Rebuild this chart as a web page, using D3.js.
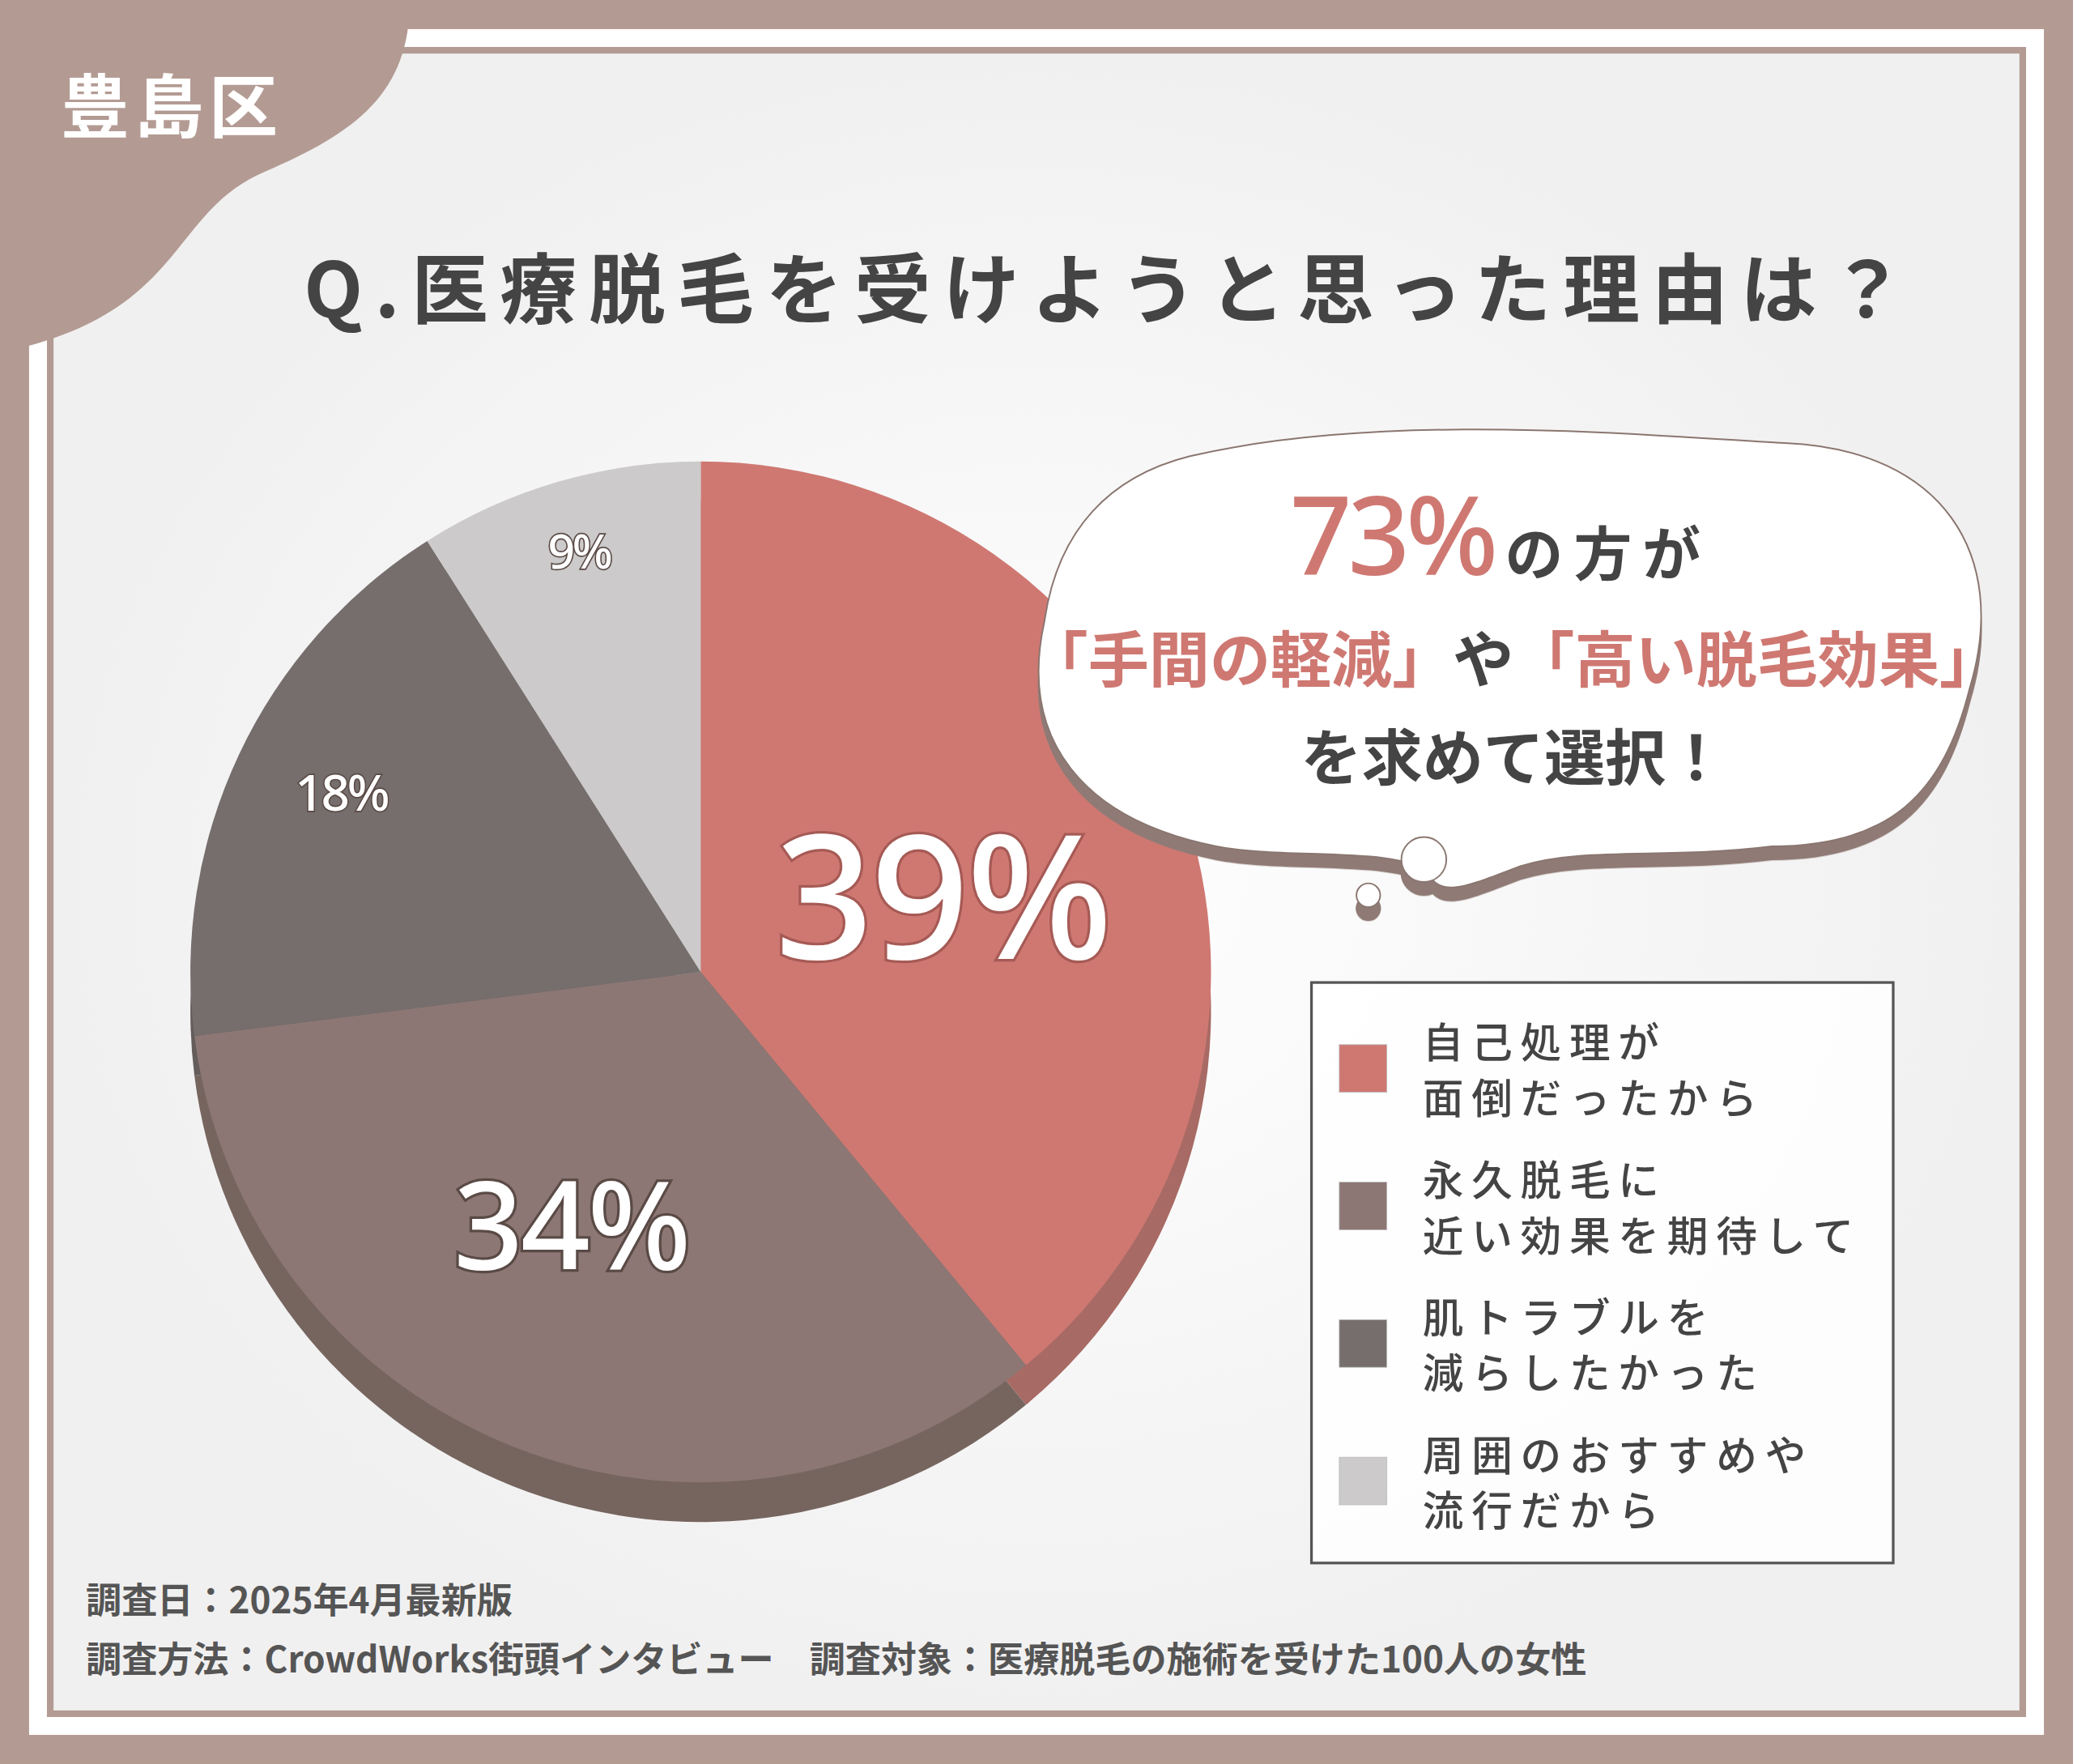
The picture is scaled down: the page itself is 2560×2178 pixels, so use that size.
<!DOCTYPE html>
<html><head><meta charset="utf-8">
<script src="https://cdn.jsdelivr.net/npm/d3@7"></script>
<style>body{margin:0;background:#b39b93}svg{display:block}</style>
</head><body>
<div id="chart"></div>
<script>
// data
const categories = ["自己処理が|面倒だったから", "永久脱毛に|近い効果を期待して", "肌トラブルを|減らしたかった", "周囲のおすすめや|流行だから"]
const values = [39, 34, 18, 9]
const colors = ["#cf7872", "#8c7774", "#756e6d", "#cccaca"]
const shadowColors = ["#a86a64", "#76655f", "#645d5b", "#aaa7a6"]
const labelSizes = [130, 92, 38, 36]

const W = 1568, H = 1334
const svg = d3.select("#chart").append("svg")
  .attr("width", 2560).attr("height", 2178)
  .attr("viewBox", `0 0 ${W} ${H}`)
  .style("font-family", "'Noto Sans CJK JP', sans-serif")

const defs = svg.append("defs")
const bg = defs.append("radialGradient").attr("id", "bg")
bg.append("stop").attr("offset", "0%").attr("stop-color", "#ffffff")
bg.append("stop").attr("offset", "100%").attr("stop-color", "#f1f0f0")
const f = defs.append("filter").attr("id", "shadow").attr("x", "-20%").attr("y", "-20%").attr("width", "140%").attr("height", "150%")
f.append("feDropShadow").attr("dx", 0).attr("dy", 10).attr("stdDeviation", 0).attr("flood-color", "#8f7a74")

// frame
svg.append("rect").attr("x", 0).attr("y", 0).attr("width", W).attr("height", H).attr("fill", "#b39b93")
svg.append("rect").attr("x", 22).attr("y", 22).attr("width", W - 44).attr("height", H - 44).attr("fill", "#ffffff")
svg.append("rect").attr("x", 38).attr("y", 38).attr("width", W - 76).attr("height", H - 76)
  .attr("fill", "url(#bg)").attr("stroke", "#b39b93").attr("stroke-width", 5)

// corner blob
svg.append("path")
  .attr("d", "M0,0 L310,0 C310,70 270,100 200,130 C130,160 140,230 20,262 L0,262 Z")
  .attr("fill", "#b39b93")
svg.append("text").attr("x", 130).attr("y", 100).attr("text-anchor", "middle")
  .attr("font-size", 52).attr("font-weight", 700).attr("fill", "#fff").attr("letter-spacing", 4)
  .text("豊島区")

// title
svg.append("text").attr("x", 840).attr("y", 240).attr("text-anchor", "middle")
  .attr("font-size", 58).attr("font-weight", 700).attr("fill", "#444").attr("letter-spacing", 9)
  .text("Q.医療脱毛を受けようと思った理由は？")

// pie
const cx = 530, cy = 735, r = 386, depth = 30
const pie = d3.pie().sort(null).value(d => d)
const arcs = pie(values)
const arc = d3.arc().innerRadius(0).outerRadius(r)

const sh = svg.append("g").attr("transform", `translate(${cx},${cy + depth})`)
sh.selectAll("path").data(arcs).enter().append("path")
  .attr("d", arc).attr("fill", (d, i) => shadowColors[i])
sh.append("rect").attr("x", -r).attr("y", -depth).attr("width", 2 * r).attr("height", depth)
  .attr("fill", "#7d6c66").attr("opacity", 0)

const g = svg.append("g").attr("transform", `translate(${cx},${cy})`)
g.selectAll("path").data(arcs).enter().append("path")
  .attr("d", arc).attr("fill", (d, i) => colors[i])

const labelPos = [[183, -45], [-98, 200], [-272, -132], [-92, -315]]
g.selectAll("text.lab").data(arcs).enter().append("text")
  .attr("class", "lab")
  .attr("x", (d, i) => labelPos[i][0]).attr("y", (d, i) => labelPos[i][1])
  .attr("text-anchor", "middle").attr("dominant-baseline", "middle")
  .attr("font-family", "'Noto Sans', sans-serif")
  .attr("font-size", (d, i) => labelSizes[i]).attr("font-weight", 500)
  .attr("fill", "#fff")
  .attr("stroke", (d, i) => i === 0 ? "#a65a55" : "#5a4a46")
  .attr("stroke-width", (d, i) => i < 2 ? 4 : 2).attr("paint-order", "stroke")
  .attr("letter-spacing", -2)
  .text(d => d.data + "%")

// speech bubble
const bubble = svg.append("g").attr("filter", "url(#shadow)")
bubble.append("path")
  .attr("d", "M900,345 C1050,310 1250,330 1350,335 C1470,340 1520,420 1490,520 C1470,600 1430,640 1340,640 C1260,650 1200,640 1150,655 C1110,670 1090,680 1080,660 C1060,640 970,650 920,640 C820,620 770,560 790,470 C800,400 840,360 900,345 Z")
  .attr("fill", "#fff").attr("stroke", "#8a7670").attr("stroke-width", 1.2)
bubble.append("circle").attr("cx", 1077).attr("cy", 650).attr("r", 17).attr("fill", "#fff").attr("stroke", "#8a7670").attr("stroke-width", 1.2)
bubble.append("circle").attr("cx", 1035).attr("cy", 677).attr("r", 9).attr("fill", "#fff").attr("stroke", "#8a7670").attr("stroke-width", 1.2)

const t1 = svg.append("text").attr("x", 1135).attr("y", 435).attr("text-anchor", "middle").attr("fill", "#444")
t1.append("tspan").attr("font-family", "'Noto Sans', sans-serif").attr("font-size", 82).attr("font-weight", 500)
  .attr("fill", "#cf7872").attr("letter-spacing", -3).text("73%")
t1.append("tspan").attr("font-size", 44).attr("font-weight", 700).attr("dx", 8).attr("letter-spacing", 8).text("の方が")

const t2 = svg.append("text").attr("x", 1145).attr("y", 516).attr("text-anchor", "middle")
  .attr("font-size", 46).attr("font-weight", 700).attr("fill", "#cf7872")
t2.append("tspan").text("「手間の軽減」")
t2.append("tspan").attr("fill", "#444").text("や")
t2.append("tspan").text("「高い脱毛効果」")

svg.append("text").attr("x", 1145).attr("y", 590).attr("text-anchor", "middle")
  .attr("font-size", 46).attr("font-weight", 700).attr("fill", "#444").text("を求めて選択！")

// legend
svg.append("rect").attr("x", 992).attr("y", 743).attr("width", 440).attr("height", 439)
  .attr("fill", "rgba(255,255,255,0.85)").attr("stroke", "#555").attr("stroke-width", 2)
const leg = svg.selectAll("g.leg").data(categories).enter().append("g").attr("class", "leg")
  .attr("transform", (d, i) => `translate(1013,${808 + i * 104})`)
leg.append("rect").attr("x", 0).attr("y", -18).attr("width", 36).attr("height", 36)
  .attr("fill", (d, i) => colors[i]).attr("stroke", "#bbb").attr("stroke-width", 0.5)
leg.each(function(d) {
  const lines = d.split("|")
  d3.select(this).selectAll("text").data(lines).enter().append("text")
    .attr("x", 63).attr("y", (l, j) => -8 + j * 42)
    .attr("font-size", 31).attr("font-weight", 500).attr("fill", "#444").attr("letter-spacing", 6)
    .text(l => l)
})

// footer
svg.append("text").attr("x", 65).attr("y", 1220).attr("font-size", 27).attr("font-weight", 700).attr("fill", "#555")
  .text("調査日：2025年4月最新版")
svg.append("text").attr("x", 65).attr("y", 1265).attr("font-size", 27).attr("font-weight", 700).attr("fill", "#555")
  .text("調査方法：CrowdWorks街頭インタビュー　調査対象：医療脱毛の施術を受けた100人の女性")
</script>
</body></html>
